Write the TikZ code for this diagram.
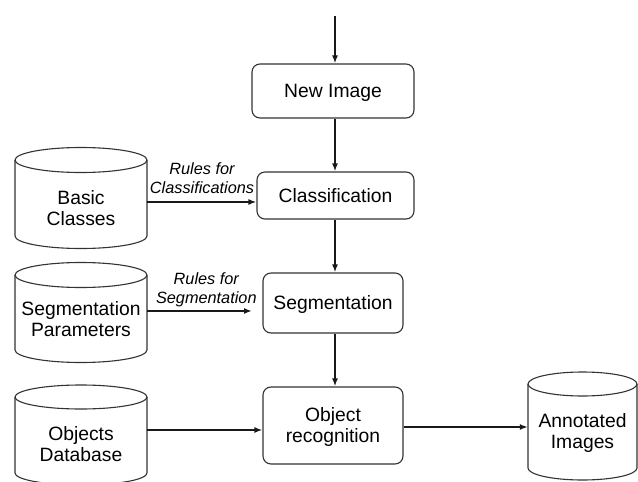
\documentclass[tikz,border=0pt]{standalone}
\usepackage{fontspec}
\setmainfont{Liberation Sans}
\usetikzlibrary{arrows.meta}
\tikzset{
  cyl/.style={draw=black!80, line width=1.1pt},
  cyltext/.style={inner sep=0pt, align=center, text depth=0pt,
    font=\fontsize{19.3}{20.5}\selectfont},
  procbox/.style={draw=black!80, line width=1.1pt, rounded corners=8pt,
    align=center, inner sep=0pt, text depth=0pt,
    font=\fontsize{19.3}{21}\selectfont},
  flow/.style={line width=1.6pt, draw=black!90, -{Latex[length=8pt,width=6pt]}},
  rulelabel/.style={align=center, inner sep=0pt, text depth=0pt,
    font=\fontsize{16.3}{19}\selectfont\itshape}
}
\newcommand{\dbcyl}[8]{% name, L, R, yt, yb, ry, texty, text
  \pgfmathsetmacro\cylcx{(#2+#3)/2}\pgfmathsetmacro\cylrx{(#3-#2)/2}
  \draw[cyl] (\cylcx,#4) ellipse[x radius=\cylrx, y radius=#6];
  \draw[cyl] (#2,#4) -- (#2,#5) arc[start angle=180,end angle=0,x radius=\cylrx,y radius=#6] -- (#3,#4);
  \node[cyltext, minimum width=#3pt-#2pt] (#1) at (\cylcx,#7) {#8};
}
\begin{document}
\begin{tikzpicture}[x=1pt,y=-1pt]
\useasboundingbox (0,0) rectangle (638,482);
% cylinders
\dbcyl{bc}{15}{147}{160}{236}{12.5}{208}{Basic\\Classes}
\dbcyl{sp}{15}{147}{275}{350}{12.5}{319}{Segmentation\\Parameters}
\dbcyl{od}{15}{147}{397}{473}{12}{444}{Objects\\Database}
\dbcyl{ai}{528}{637}{384}{468}{12}{431}{Annotated\\Images}
% process boxes
\node[procbox, minimum width=162pt, minimum height=54pt] (ni) at (333,91) {New Image};
\node[procbox, minimum width=157pt, minimum height=47pt] (cl) at (335.5,195.5) {Classification};
\node[procbox, minimum width=140pt, minimum height=60pt] (sg) at (333,303) {Segmentation};
\node[procbox, minimum width=140pt, minimum height=77pt] (ob) at (333,425.5) {Object\\recognition};
% connectors
\coordinate (start) at (335,16);
\draw[flow] (start) -- (start |- ni.north);
\draw[flow] (ni.south -| start) -- (cl.north -| start);
\draw[flow] (cl.south -| start) -- (sg.north -| start);
\draw[flow] (sg.south -| start) -- (ob.north -| start);
\draw[flow] (bc.east |- 0,202) -- (cl.west |- 0,202);
\coordinate (segend) at (252,311);
\draw[flow] (sp.east |- segend) -- (segend);
\draw[flow] (od.east |- 0,430) -- (ob.west |- 0,430);
\draw[flow] (ob.east |- 0,427) -- (ai.west |- 0,427);
% labels
\node[rulelabel] (rc) at (202,177.7) {Rules for\\Classifications};
\node[rulelabel] (rs) at (206.3,288.5) {Rules for\\Segmentation};
\end{tikzpicture}
\end{document}
